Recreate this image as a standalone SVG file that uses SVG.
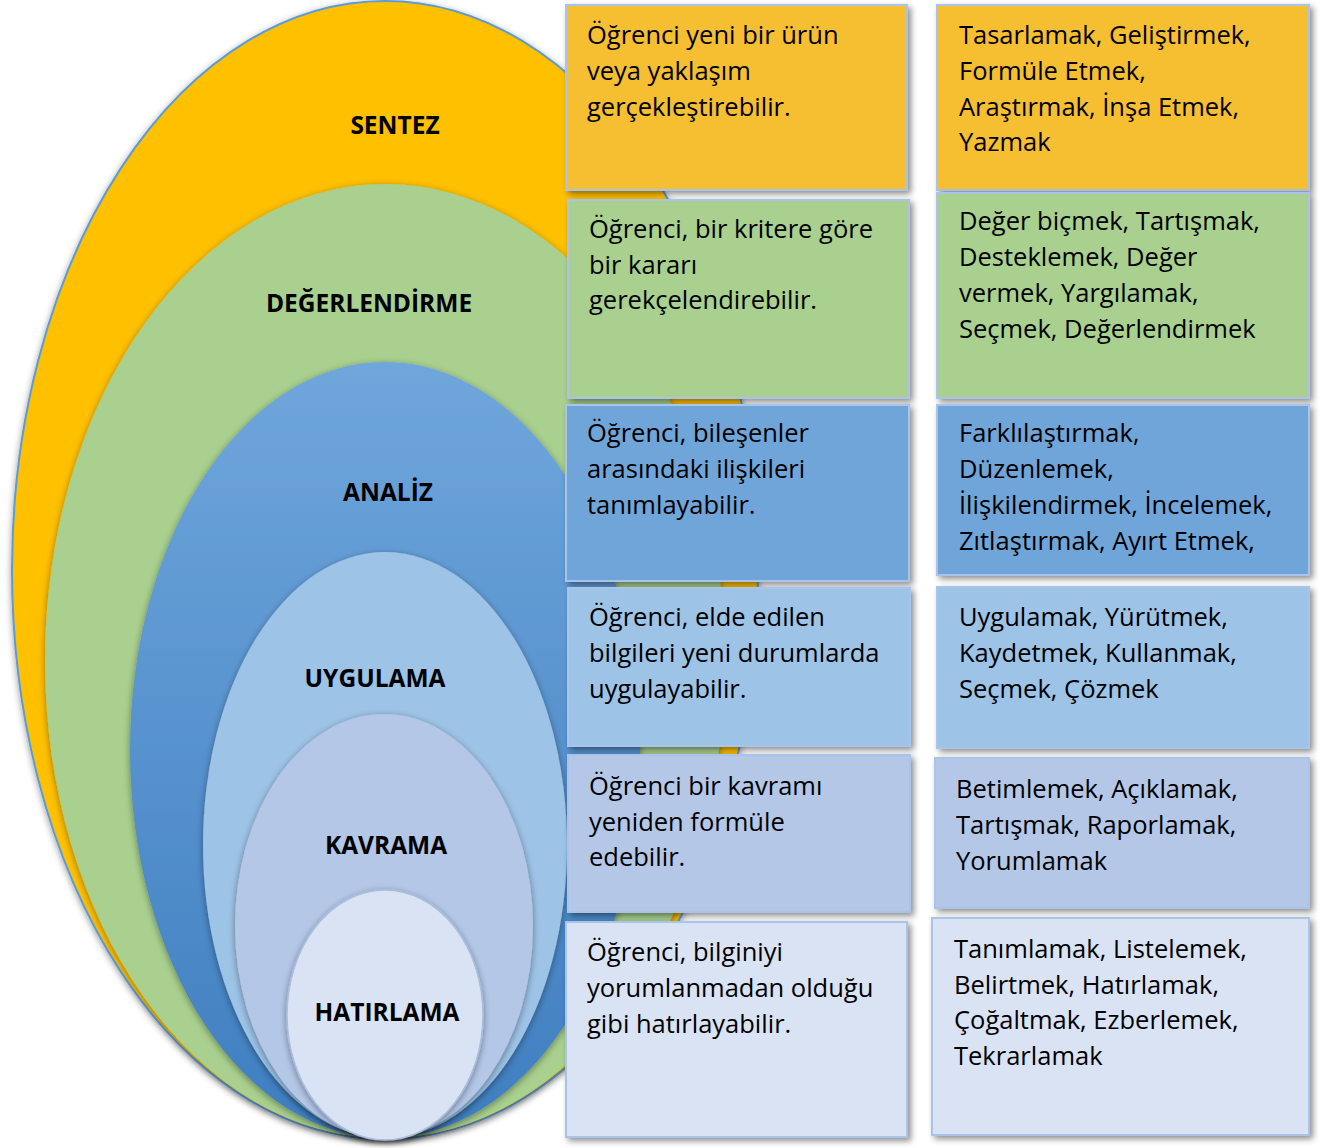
<svg xmlns="http://www.w3.org/2000/svg" width="1325" height="1148" viewBox="0 0 1325 1148">
<style>
.lbl{font-family:"Open Sans","Noto Sans",sans-serif;font-weight:bold;font-size:24.5px;fill:#000;text-anchor:middle}
.txt{font-family:"Open Sans","Noto Sans",sans-serif;font-size:25.5px;fill:#000}
.box{stroke:#A9C4E8;stroke-width:2}
</style>
<defs>
<filter id="sh" x="-10%" y="-10%" width="120%" height="120%">
<feGaussianBlur in="SourceAlpha" stdDeviation="3"/>
<feOffset dx="3" dy="3"/>
<feComponentTransfer><feFuncA type="linear" slope="0.45"/></feComponentTransfer>
<feMerge><feMergeNode/><feMergeNode in="SourceGraphic"/></feMerge>
</filter>
<filter id="esh" x="-10%" y="-10%" width="120%" height="120%">
<feGaussianBlur in="SourceAlpha" stdDeviation="3.5"/>
<feOffset dx="0" dy="2"/>
<feComponentTransfer><feFuncA type="linear" slope="0.4"/></feComponentTransfer>
<feMerge><feMergeNode/><feMergeNode in="SourceGraphic"/></feMerge>
</filter>
<linearGradient id="gA" x1="0" y1="0" x2="0" y2="1">
<stop offset="0" stop-color="#6FA6DC"/>
<stop offset="1" stop-color="#3F7EC0"/>
</linearGradient>
</defs>

<g id="node-sentez">
<ellipse cx="385" cy="570" rx="373" ry="569" fill="#FFC000" stroke="#5B9BD5" stroke-width="2" filter="url(#esh)"/>
<text class="lbl" x="395" y="134">SENTEZ</text>
</g>
<g id="node-degerlendirme">
<ellipse cx="385" cy="661" rx="340" ry="477" fill="#A9D08E" filter="url(#esh)"/>
<text class="lbl" x="369" y="312">DEĞERLENDİRME</text>
</g>
<g id="node-analiz">
<ellipse cx="385" cy="750" rx="255" ry="388" fill="url(#gA)" filter="url(#esh)"/>
<text class="lbl" x="388" y="501">ANALİZ</text>
</g>
<g id="node-uygulama">
<ellipse cx="385" cy="845" rx="182" ry="293" fill="#9DC3E6" filter="url(#esh)"/>
<text class="lbl" x="375" y="687">UYGULAMA</text>
</g>
<g id="node-kavrama">
<ellipse cx="384" cy="926" rx="149" ry="212" fill="#B4C7E7" filter="url(#esh)"/>
<text class="lbl" x="386" y="854">KAVRAMA</text>
</g>
<g id="node-hatirlama">
<ellipse cx="385" cy="1015" rx="98" ry="125" fill="#DAE3F3" stroke="#A9BEDE" stroke-width="1.5" filter="url(#esh)"/>
<text class="lbl" x="387" y="1021">HATIRLAMA</text>
</g>

<g id="connectors"></g>

<g id="box-l1">
<rect class="box" x="566" y="5" width="341" height="185" fill="#F6BF33" filter="url(#sh)"/>
<text class="txt" x="587" y="44">Öğrenci yeni bir ürün</text>
<text class="txt" x="587" y="80">veya yaklaşım</text>
<text class="txt" x="587" y="116">gerçekleştirebilir.</text>
</g>
<g id="box-l2">
<rect class="box" x="568" y="200" width="341" height="198" fill="#A9D08E" filter="url(#sh)"/>
<text class="txt" x="589" y="238">Öğrenci, bir kritere göre</text>
<text class="txt" x="589" y="274">bir kararı</text>
<text class="txt" x="589" y="309">gerekçelendirebilir.</text>
</g>
<g id="box-l3">
<rect class="box" x="566" y="405" width="343" height="176" fill="#6FA5DA" filter="url(#sh)"/>
<text class="txt" x="587" y="442">Öğrenci, bileşenler</text>
<text class="txt" x="587" y="478">arasındaki ilişkileri</text>
<text class="txt" x="587" y="514">tanımlayabilir.</text>
</g>
<g id="box-l4">
<rect class="box" x="568" y="588" width="342" height="158" fill="#9DC3E6" filter="url(#sh)"/>
<text class="txt" x="589" y="626">Öğrenci, elde edilen</text>
<text class="txt" x="589" y="662">bilgileri yeni durumlarda</text>
<text class="txt" x="589" y="698">uygulayabilir.</text>
</g>
<g id="box-l5">
<rect class="box" x="568" y="755" width="342" height="157" fill="#B4C7E7" filter="url(#sh)"/>
<text class="txt" x="589" y="795">Öğrenci bir kavramı</text>
<text class="txt" x="589" y="831">yeniden formüle</text>
<text class="txt" x="589" y="866">edebilir.</text>
</g>
<g id="box-l6">
<rect class="box" x="566" y="922" width="341" height="215" fill="#DAE3F3" filter="url(#sh)"/>
<text class="txt" x="587" y="961">Öğrenci, bilginiyi</text>
<text class="txt" x="587" y="997">yorumlanmadan olduğu</text>
<text class="txt" x="587" y="1033">gibi hatırlayabilir.</text>
</g>

<g id="box-r1">
<rect class="box" x="937" y="5" width="372" height="185" fill="#F6BF33" filter="url(#sh)"/>
<text class="txt" x="959" y="44">Tasarlamak, Geliştirmek,</text>
<text class="txt" x="959" y="80">Formüle Etmek,</text>
<text class="txt" x="959" y="116">Araştırmak, İnşa Etmek,</text>
<text class="txt" x="959" y="151">Yazmak</text>
</g>
<g id="box-r2">
<rect class="box" x="937" y="193" width="372" height="205" fill="#A9D08E" filter="url(#sh)"/>
<text class="txt" x="959" y="230">Değer biçmek, Tartışmak,</text>
<text class="txt" x="959" y="266">Desteklemek, Değer</text>
<text class="txt" x="959" y="302">vermek, Yargılamak,</text>
<text class="txt" x="959" y="338">Seçmek, Değerlendirmek</text>
</g>
<g id="box-r3">
<rect class="box" x="937" y="405" width="372" height="170" fill="#6FA5DA" filter="url(#sh)"/>
<text class="txt" x="959" y="442">Farklılaştırmak,</text>
<text class="txt" x="959" y="478">Düzenlemek,</text>
<text class="txt" x="959" y="514">İlişkilendirmek, İncelemek,</text>
<text class="txt" x="959" y="550">Zıtlaştırmak, Ayırt Etmek,</text>
</g>
<g id="box-r4">
<rect class="box" x="937" y="587" width="372" height="161" fill="#9DC3E6" filter="url(#sh)"/>
<text class="txt" x="959" y="626">Uygulamak, Yürütmek,</text>
<text class="txt" x="959" y="662">Kaydetmek, Kullanmak,</text>
<text class="txt" x="959" y="698">Seçmek, Çözmek</text>
</g>
<g id="box-r5">
<rect class="box" x="935" y="758" width="374" height="150" fill="#B4C7E7" filter="url(#sh)"/>
<text class="txt" x="956" y="798">Betimlemek, Açıklamak,</text>
<text class="txt" x="956" y="834">Tartışmak, Raporlamak,</text>
<text class="txt" x="956" y="870">Yorumlamak</text>
</g>
<g id="box-r6">
<rect class="box" x="932" y="918" width="377" height="217" fill="#DAE3F3" filter="url(#sh)"/>
<text class="txt" x="954" y="958">Tanımlamak, Listelemek,</text>
<text class="txt" x="954" y="994">Belirtmek, Hatırlamak,</text>
<text class="txt" x="954" y="1029">Çoğaltmak, Ezberlemek,</text>
<text class="txt" x="954" y="1065">Tekrarlamak</text>
</g>
</svg>
